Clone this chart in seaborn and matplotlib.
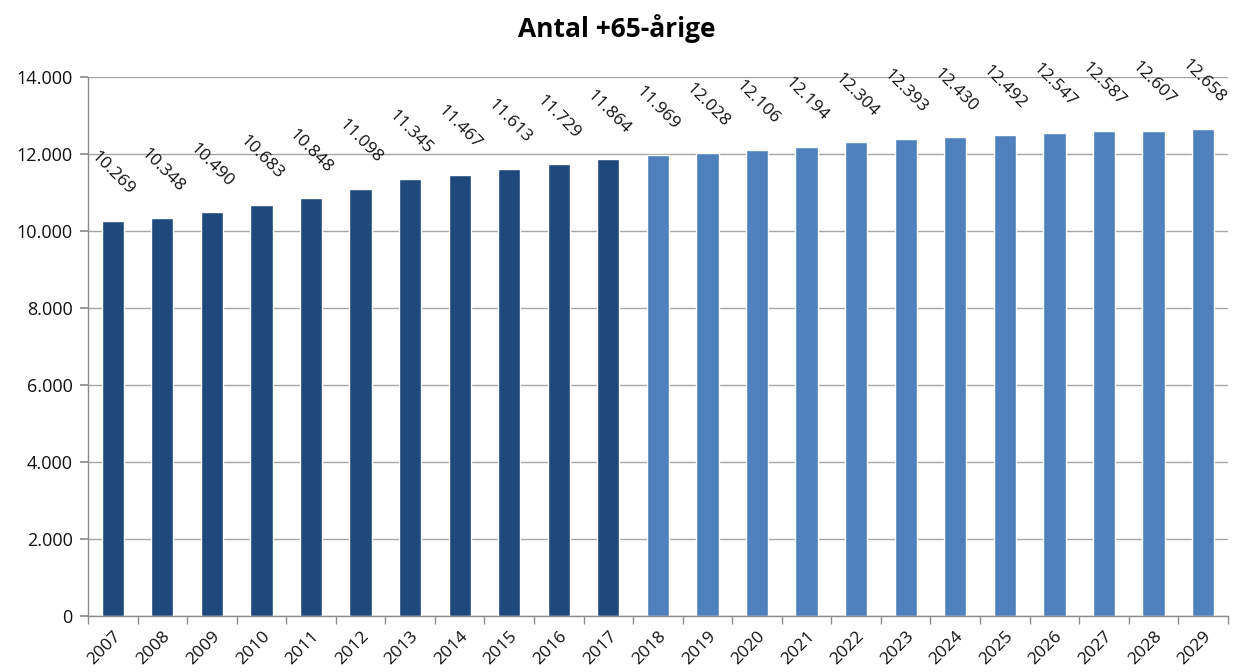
import matplotlib
matplotlib.use("Agg")
import matplotlib.pyplot as plt
import seaborn as sns
import pandas as pd
from matplotlib.ticker import FuncFormatter, MultipleLocator

years = [str(y) for y in range(2007, 2030)]
values = [10269, 10348, 10490, 10683, 10848, 11098, 11345, 11467, 11613, 11729, 11864,
          11969, 12028, 12106, 12194, 12304, 12393, 12430, 12492, 12547, 12587, 12607, 12658]
period = ["actual"] * 11 + ["forecast"] * 12
palette = {"actual": "#1F497D", "forecast": "#4F81BD"}

df = pd.DataFrame({"year": years, "value": values, "period": period})

sns.set_theme(style="white")
plt.rcParams['font.family'] = ['Open Sans', 'DejaVu Sans']

fig = plt.figure(figsize=(12.34, 6.72), dpi=100)
ax = fig.add_axes([0.0713, 0.0833, 0.9237, 0.8021])

sns.barplot(data=df, x="year", y="value", hue="period", palette=palette,
            dodge=False, width=0.45, legend=False, ax=ax, saturation=1)

ax.set_ylim(0, 14000)
ax.set_xlim(-0.5, len(years) - 0.5)
ax.yaxis.set_major_locator(MultipleLocator(2000))
ax.yaxis.set_major_formatter(FuncFormatter(lambda v, p: f"{int(v):,}".replace(",", ".")))
ax.grid(axis="y", color="#A6A6A6", linewidth=1)
ax.set_axisbelow(True)
ax.set_xlabel("")
ax.set_ylabel("")

for s in ["top", "right"]:
    ax.spines[s].set_visible(False)
for s in ["left", "bottom"]:
    ax.spines[s].set_color("#8C8C8C")
    ax.spines[s].set_linewidth(1)

ax.tick_params(axis="y", left=True, length=6, color="#8C8C8C", labelsize=13, pad=5, labelcolor="#111111")
ax.tick_params(axis="x", bottom=False, labelsize=12.5, pad=3, labelcolor="#111111")
ax.set_xticks([i - 0.5 for i in range(len(years) + 1)], minor=True)
ax.tick_params(axis="x", which="minor", bottom=True, length=6, color="#8C8C8C")

for lab in ax.get_xticklabels():
    lab.set_rotation(45)
    lab.set_ha("right")
    lab.set_rotation_mode("anchor")

for i, v in enumerate(values):
    ax.annotate(f"{v:,}".replace(",", "."), xy=(i, v), xytext=(0, 34),
                textcoords="offset points", rotation=-45, ha="center", va="center",
                rotation_mode="anchor", fontsize=12.5, color="#111111")

fig.text(0.5, 0.958, "Antal +65-årige", ha="center", va="center",
         fontsize=19, fontweight="bold", color="#000000")

fig.savefig("out.png", dpi=100)
